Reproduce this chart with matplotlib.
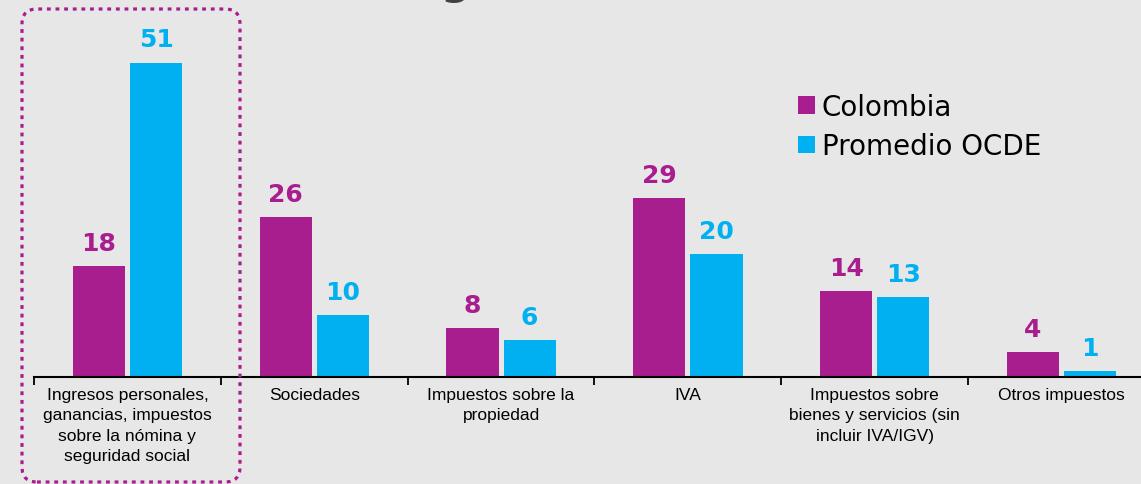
import matplotlib.pyplot as plt
import numpy as np
from matplotlib.patches import FancyBboxPatch

# Chart data
categorias = [
    "Ingresos personales,\nganancias, impuestos\nsobre la nómina y\nseguridad social",
    "Sociedades",
    "Impuestos sobre la\npropiedad",
    "IVA",
    "Impuestos sobre\nbienes y servicios (sin\nincluir IVA/IGV)",
    "Otros impuestos",
]
colombia = [18, 26, 8, 29, 14, 4]
promedio_ocde = [51, 10, 6, 20, 13, 1]

color_col = "#A91E8F"
color_ocde = "#00B0F0"
fondo = "#E7E7E7"

fig = plt.figure(figsize=(11.41, 4.85), dpi=100, facecolor=fondo)
ax = fig.add_axes([34 / 1141, 107 / 485, 1121 / 1141, 370 / 485])
ax.set_facecolor(fondo)

x = np.arange(len(categorias))
w = 0.28
b1 = ax.bar(x - 0.153, colombia, w, color=color_col, label="Colombia")
b2 = ax.bar(x + 0.153, promedio_ocde, w, color=color_ocde, label="Promedio OCDE")

ax.bar_label(b1, padding=8, color=color_col, fontsize=18, fontweight="bold")
ax.bar_label(b2, padding=8, color=color_ocde, fontsize=18, fontweight="bold")

ax.set_xlim(-0.5, len(categorias) - 0.5)
ax.set_ylim(0, 60)

# Tick marks at category boundaries, labels at centers
ax.set_xticks(np.arange(len(categorias) + 1) - 0.5)
ax.set_xticklabels([])
ax.set_xticks(x, minor=True)
ax.set_xticklabels(categorias, minor=True, fontsize=12.5, family="Liberation Sans",
                   linespacing=1.45)
ax.tick_params(axis="x", which="major", length=6, width=1.3, direction="out")
ax.tick_params(axis="x", which="minor", length=0, pad=7)
ax.set_yticks([])

for s in ["top", "right", "left"]:
    ax.spines[s].set_visible(False)
ax.spines["bottom"].set_linewidth(1.5)

leg = fig.legend(loc="upper left", bbox_to_anchor=(773 / 1141, 1 - 69 / 485),
                 frameon=False, fontsize=20, handlelength=0.6, handleheight=0.6,
                 handletextpad=0.25, labelspacing=0.4)

# cut-off title fragment at the top
fig.text(455 / 1141, 1 + 6 / 485, "g", ha="center", va="baseline",
         fontsize=30, fontweight="bold", color="#404040")

# dotted highlight box around first category
caja = FancyBboxPatch((0.22, 0.02), 2.18, 4.73,
                      boxstyle="round,pad=0,rounding_size=0.15",
                      transform=fig.dpi_scale_trans, fill=False,
                      edgecolor=color_col, linewidth=2.3,
                      linestyle=(0, (1.2, 1.5)))
fig.add_artist(caja)

fig.savefig("out.png", dpi=100, facecolor=fondo)
